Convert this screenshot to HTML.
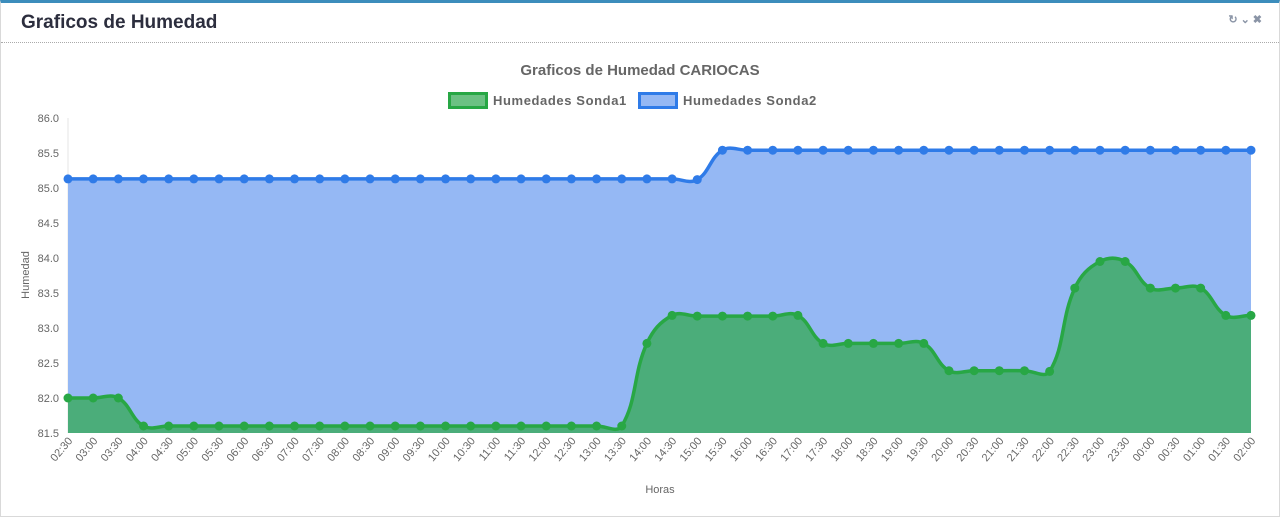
<!DOCTYPE html>
<html><head><meta charset="utf-8"><style>
body{margin:0;width:1280px;height:515px;background:#fff;font-family:"Liberation Sans",sans-serif;overflow:hidden}
.panel{position:absolute;left:0;top:0;width:1278px;height:513px;border:1px solid #d9d9d9;border-top:3px solid #3c8dbc;box-sizing:content-box}
.hdr{position:absolute;left:0;top:0;width:1278px;height:39px;border-bottom:1px dotted #aaa}
.hdr h3{margin:0;position:absolute;left:20px;top:9px;font-size:19px;font-weight:bold;color:#2c2e3e}
.icons{position:absolute;right:14px;top:10px;color:#8a94a6;font-size:11px;font-weight:bold;letter-spacing:3px}
svg{position:absolute;left:0;top:0}
</style></head><body>
<div class="panel">
<div class="hdr">
<h3>Graficos de Humedad</h3>
<div class="icons"><span>&#x21bb;</span><span>&#x2304;</span><span>&#x2716;</span></div>
</div></div>
<svg id="c" width="1280" height="515"></svg>
<script>
const labels=["02:30","03:00","03:30","04:00","04:30","05:00","05:30","06:00","06:30","07:00","07:30","08:00","08:30","09:00","09:30","10:00","10:30","11:00","11:30","12:00","12:30","13:00","13:30","14:00","14:30","15:00","15:30","16:00","16:30","17:00","17:30","18:00","18:30","19:00","19:30","20:00","20:30","21:00","21:30","22:00","22:30","23:00","23:30","00:00","00:30","01:00","01:30","02:00"];
const sonda1=[82.0,82.0,82.0,81.6,81.6,81.6,81.6,81.6,81.6,81.6,81.6,81.6,81.6,81.6,81.6,81.6,81.6,81.6,81.6,81.6,81.6,81.6,81.6,82.78,83.18,83.17,83.17,83.17,83.17,83.18,82.78,82.78,82.78,82.78,82.78,82.39,82.39,82.39,82.39,82.38,83.57,83.95,83.95,83.57,83.57,83.57,83.18,83.18];
const sonda2=[85.13,85.13,85.13,85.13,85.13,85.13,85.13,85.13,85.13,85.13,85.13,85.13,85.13,85.13,85.13,85.13,85.13,85.13,85.13,85.13,85.13,85.13,85.13,85.13,85.13,85.12,85.54,85.54,85.54,85.54,85.54,85.54,85.54,85.54,85.54,85.54,85.54,85.54,85.54,85.54,85.54,85.54,85.54,85.54,85.54,85.54,85.54,85.54];
const yTicks=[81.5,82.0,82.5,83.0,83.5,84.0,84.5,85.0,85.5,86.0];
const X0=68,X1=1251,Y0=433,Y1=118;
const xs=i=>X0+(X1-X0)*i/(labels.length-1);
const ys=v=>Y0-(v-81.5)/(86-81.5)*(Y0-Y1);
const svg=document.getElementById('c');const NS='http://www.w3.org/2000/svg';
function mk(t,a,p){const e=document.createElementNS(NS,t);for(const k in a)e.setAttribute(k,a[k]);(p||svg).appendChild(e);return e;}
function curve(vals){const P=vals.map((v,i)=>[xs(i),ys(v)]);const t=0.4;let d=`M${P[0][0]},${P[0][1]}`;
const cps=P.map((p,i)=>{const a=P[Math.max(i-1,0)],c=P[Math.min(i+1,P.length-1)];
const d01=Math.hypot(p[0]-a[0],p[1]-a[1]),d12=Math.hypot(c[0]-p[0],c[1]-p[1]);let fa=d01/(d01+d12||1),fb=d12/(d01+d12||1);fa*=t;fb*=t;
return [[p[0]-fa*(c[0]-a[0]),p[1]-fa*(c[1]-a[1])],[p[0]+fb*(c[0]-a[0]),p[1]+fb*(c[1]-a[1])]];});
for(let i=1;i<P.length;i++){d+=`C${cps[i-1][1][0]},${cps[i-1][1][1]} ${cps[i][0][0]},${cps[i][0][1]} ${P[i][0]},${P[i][1]}`;}return d;}
const t1=mk('text',{x:640,y:75,'text-anchor':'middle','font-size':15,'font-weight':'bold',fill:'#666'});t1.textContent='Graficos de Humedad CARIOCAS';


mk('line',{x1:X0,x2:X0,y1:Y1,y2:Y0,stroke:'#e5e5e5'});
yTicks.forEach(v=>{const t=mk('text',{x:59,y:ys(v)+4,'text-anchor':'end','font-size':11,fill:'#666'});t.textContent=v.toFixed(1);

});
const yt=mk('text',{transform:'translate(29,275) rotate(-90)','text-anchor':'middle','font-size':11,fill:'#666'});yt.textContent='Humedad';


const xt=mk('text',{x:660,y:493,'text-anchor':'middle','font-size':11,fill:'#666'});xt.textContent='Horas';


function series(vals,fill,stroke,name){const c=curve(vals);
const a=mk('path',{d:c+`L${X1},${Y0}L${X0},${Y0}Z`,fill:fill});


const l=mk('path',{d:c,fill:'none',stroke:stroke,'stroke-width':3.5});


vals.forEach((v,i)=>{const p=mk('circle',{cx:xs(i),cy:ys(v),r:4.5,fill:stroke});

});}
series(sonda2,'#95b8f4','#2f7be8','sonda2');
series(sonda1,'#4bad7a','#28a745','sonda1');
labels.forEach((s,i)=>{const t=mk('text',{transform:`translate(${xs(i)+5},${441}) rotate(-50)`,'text-anchor':'end','font-size':11,fill:'#666'});t.textContent=s;

});
const lg=[[448,'#6cc183','#28a745','Humedades Sonda1',493],[638,'#95b8f4','#2f7be8','Humedades Sonda2',683]];
lg.forEach(g=>{const r=mk('rect',{x:g[0]+1.5,y:93.5,width:37,height:14,fill:g[1],stroke:g[2],'stroke-width':3});


const t=mk('text',{x:g[4],y:105,'font-size':13,'font-weight':'bold',fill:'#666','letter-spacing':'0.6'});t.textContent=g[3];

});
</script></body></html>
